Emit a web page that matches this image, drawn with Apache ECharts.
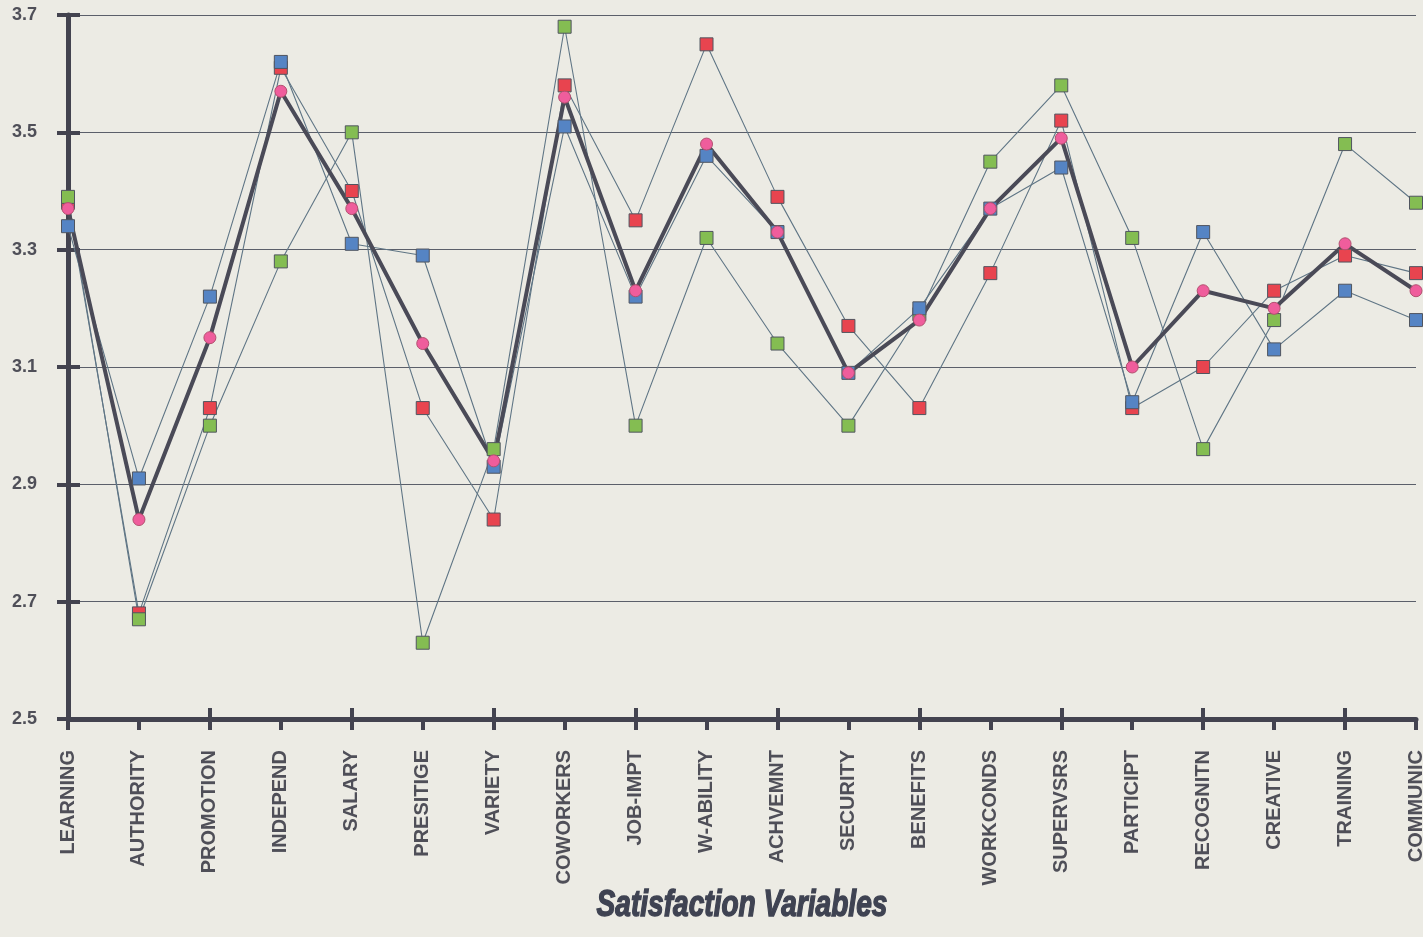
<!DOCTYPE html>
<html>
<head>
<meta charset="utf-8">
<title>Satisfaction Variables</title>
<script src="https://cdn.jsdelivr.net/npm/echarts@6/dist/echarts.min.js"></script>
<style>
  html, body { margin: 0; padding: 0; background: #ecebe4; }
  #chart { width: 1423px; height: 937px; }
</style>
</head>
<body>
<div id="chart"></div>
<script>
// Satisfaction variables (x axis)
const categories = ['LEARNING', 'AUTHORITY', 'PROMOTION', 'INDEPEND', 'SALARY', 'PRESITIGE', 'VARIETY',
  'COWORKERS', 'JOB-IMPT', 'W-ABILITY', 'ACHVEMNT', 'SECURITY', 'BENEFITS', 'WORKCONDS', 'SUPERVSRS',
  'PARTICIPT', 'RECOGNITN', 'CREATIVE', 'TRAINING', 'COMMUNIC'];

// Mean scores per group
const groupRed   = [3.38, 2.68, 3.03, 3.61, 3.40, 3.03, 2.84, 3.58, 3.35, 3.65, 3.39, 3.17, 3.03, 3.26, 3.52, 3.03, 3.10, 3.23, 3.29, 3.26];
const groupGreen = [3.39, 2.67, 3.00, 3.28, 3.50, 2.63, 2.96, 3.68, 3.00, 3.32, 3.14, 3.00, 3.19, 3.45, 3.58, 3.32, 2.96, 3.18, 3.48, 3.38];
const groupBlue  = [3.34, 2.91, 3.22, 3.62, 3.31, 3.29, 2.93, 3.51, 3.22, 3.46, 3.33, 3.09, 3.20, 3.37, 3.44, 3.04, 3.33, 3.13, 3.23, 3.18];
const overall    = [3.37, 2.84, 3.15, 3.57, 3.37, 3.14, 2.94, 3.56, 3.23, 3.48, 3.33, 3.09, 3.18, 3.37, 3.49, 3.10, 3.23, 3.20, 3.31, 3.23];

// Value axis ticks
const yTicks = [2.5, 2.7, 2.9, 3.1, 3.3, 3.5, 3.7];

const axisTitle = 'Satisfaction Variables';

const axisDark = '#43434f';
const labelColor = '#4f4f58';
const thinLine = '#5f7585';

const W = 1423, H = 937;
const gridBox = { left: 68, right: 7, top: 15, bottom: 218 };

function thinSeries(name, data, fill) {
  return {
    name: name,
    type: 'line',
    data: data,
    symbol: 'rect',
    symbolSize: 13,
    showSymbol: true,
    lineStyle: { color: thinLine, width: 1.1 },
    itemStyle: { color: fill, borderColor: '#50555f', borderWidth: 1 },
    emphasis: { disabled: true }
  };
}

const chart = echarts.init(document.getElementById('chart'), null, { renderer: 'canvas' });

chart.setOption({
  animation: false,
  backgroundColor: '#ecebe4',
  grid: Object.assign({ containLabel: false, outerBoundsMode: 'none' }, gridBox),
  // condensed heavy italic axis title, centred under the plot
  graphic: [{
    type: 'text',
    x: gridBox.left + (W - gridBox.left - gridBox.right) / 2,
    y: 906,
    scaleX: 0.78,
    style: {
      text: axisTitle,
      fill: '#3f4352',
      stroke: '#3f4352',
      lineWidth: 1.4,
      font: "italic bold 36px 'Liberation Sans', Arial, sans-serif",
      textAlign: 'center',
      textVerticalAlign: 'middle'
    }
  }],
  xAxis: [
    {
      type: 'category',
      data: categories,
      boundaryGap: false,
      position: 'bottom',
      axisLine: { show: true, lineStyle: { color: axisDark, width: 5 } },
      axisTick: { show: true, inside: false, length: 11, lineStyle: { color: axisDark, width: 4 } },
      axisLabel: {
        rotate: 90,
        margin: 31,
        interval: 0,
        color: labelColor,
        fontFamily: "'Liberation Sans', Arial, sans-serif",
        fontWeight: 'bold',
        fontSize: 20
      },
      splitLine: { show: false }
    },
    {
      type: 'category',
      data: categories,
      boundaryGap: false,
      position: 'bottom',
      axisLine: { show: false },
      axisTick: { show: true, inside: true, length: 11, lineStyle: { color: axisDark, width: 4 } },
      axisLabel: { show: false },
      splitLine: { show: false }
    }
  ],
  yAxis: [
    {
      type: 'value',
      min: 2.5,
      max: 3.7,
      position: 'left',
      axisLine: { show: true, lineStyle: { color: axisDark, width: 5 } },
      axisTick: { show: true, inside: false, length: 11, customValues: yTicks, lineStyle: { color: axisDark, width: 4 } },
      axisLabel: {
        customValues: yTicks,
        margin: 31,
        color: labelColor,
        fontFamily: "'Liberation Sans', Arial, sans-serif",
        fontWeight: 'bold',
        fontSize: 18,
        formatter: v => v.toFixed(1)
      },
      splitLine: { show: true, lineStyle: { color: '#5b5f6a', width: 1 } }
    },
    {
      type: 'value',
      min: 2.5,
      max: 3.7,
      position: 'left',
      axisLine: { show: false },
      axisTick: { show: true, inside: true, length: 12, customValues: yTicks, lineStyle: { color: axisDark, width: 4 } },
      axisLabel: { show: false, customValues: yTicks },
      splitLine: { show: false }
    }
  ],
  series: [
    thinSeries('Group 1', groupRed, '#e8444f'),
    thinSeries('Group 2', groupGreen, '#84bd52'),
    thinSeries('Group 3', groupBlue, '#5584c4'),
    {
      name: 'Overall',
      type: 'line',
      data: overall,
      symbol: 'circle',
      symbolSize: 12,
      lineStyle: { color: '#4a4a57', width: 4 },
      itemStyle: { color: '#ef5d9c', borderColor: '#b3506f', borderWidth: 1 },
      emphasis: { disabled: true }
    }
  ]
});
</script>
</body>
</html>
